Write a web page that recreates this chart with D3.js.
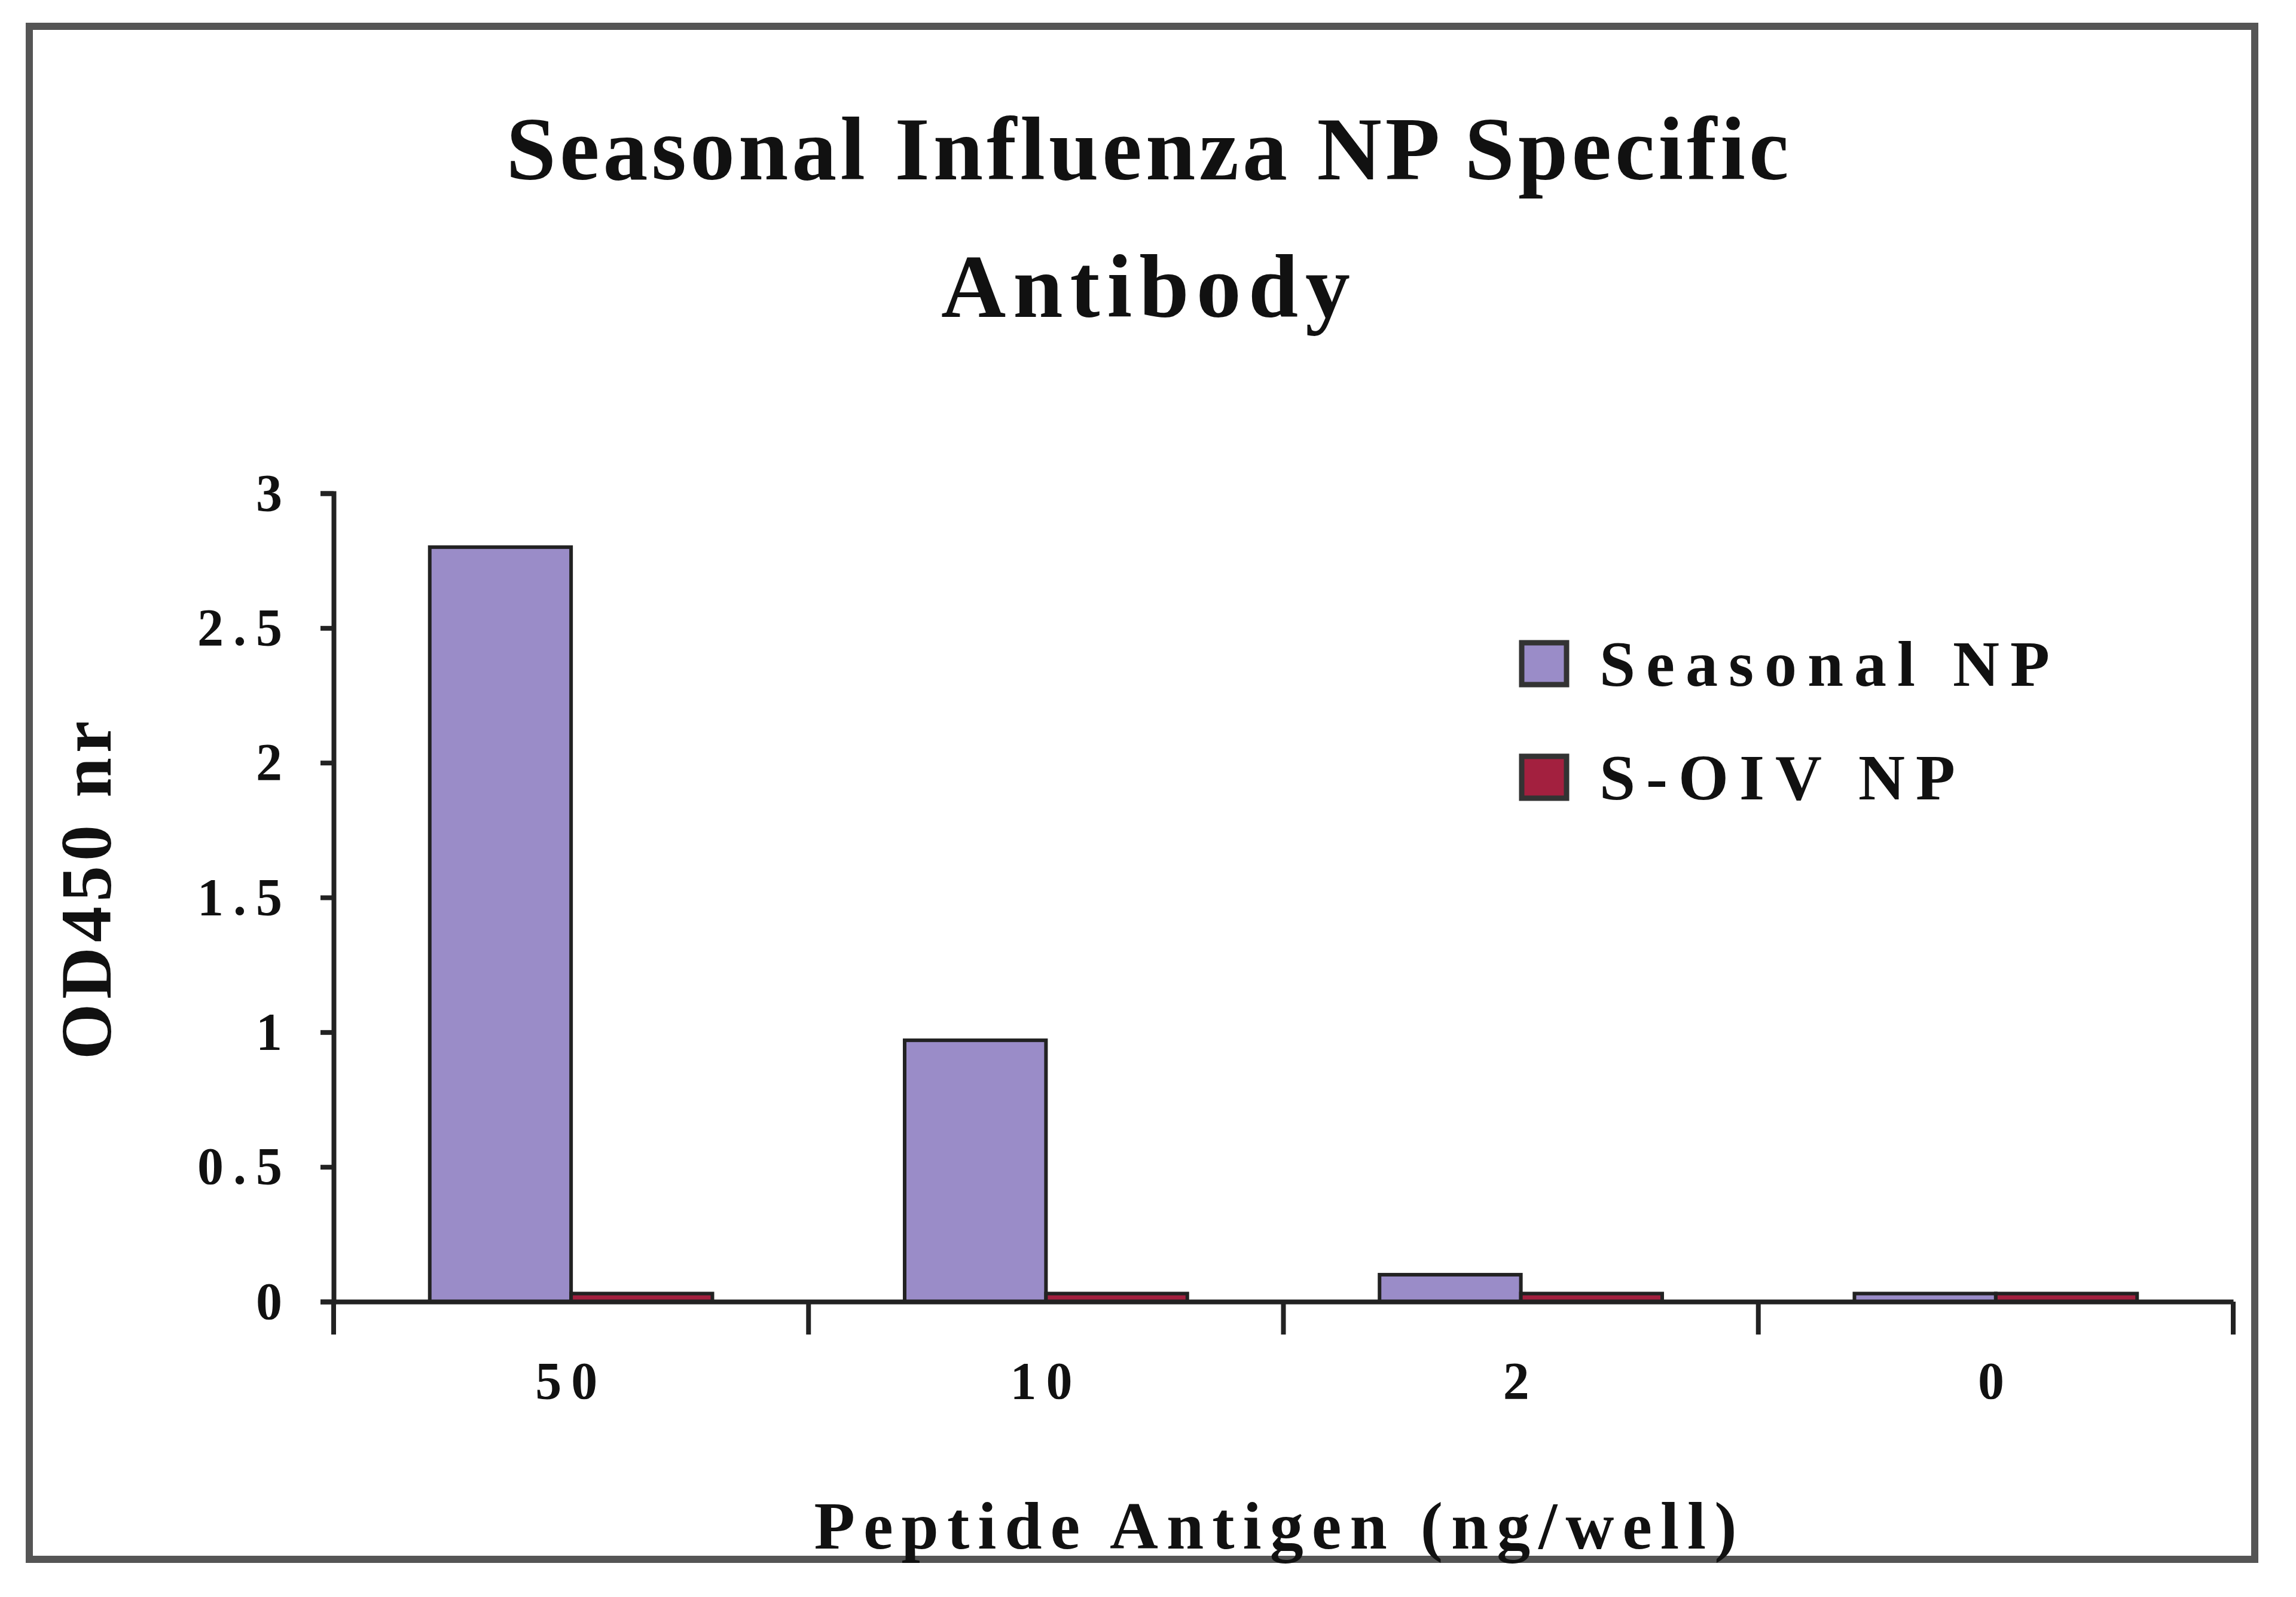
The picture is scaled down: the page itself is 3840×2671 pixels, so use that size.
<!DOCTYPE html>
<html><head><meta charset="utf-8">
<script src="https://cdn.jsdelivr.net/npm/d3@7"></script>
<style>
body{margin:0;background:#fff;}
text{font-family:"Liberation Serif","DejaVu Serif",serif;font-weight:bold;fill:#111;}
</style></head>
<body><svg id="c" width="3840" height="2671"></svg>
<script>
var categories = ["50", "10", "2", "0"];
var seriesNames = ["Seasonal NP", "S-OIV NP"];
var seasonal = [2.8, 0.97, 0.1, 0.03];
var soiv = [0.03, 0.03, 0.03, 0.03];
var yTicks = [0, 0.5, 1, 1.5, 2, 2.5, 3];
var colors = ["#9a8cc8", "#a3203f"];

var svg = d3.select("#c");
svg.append("rect").attr("x", 49).attr("y", 44).attr("width", 3722).attr("height", 2564)
  .attr("fill", "#fff").attr("stroke", "#555").attr("stroke-width", 12);

var x0 = d3.scaleBand().domain(categories).range([558, 3735]).paddingInner(0).paddingOuter(0);
var x1 = d3.scaleBand().domain(seriesNames).range([0, x0.bandwidth()]).paddingOuter(0.68).paddingInner(0);
var y = d3.scaleLinear().domain([0, 3]).range([2177, 825]);

svg.append("text").attr("x", 1922).attr("y", 300).attr("text-anchor", "middle")
  .attr("font-size", 150).attr("letter-spacing", 6).text("Seasonal Influenza NP Specific");
svg.append("text").attr("x", 1922).attr("y", 530).attr("text-anchor", "middle")
  .attr("font-size", 150).attr("letter-spacing", 12).text("Antibody");

var rows = categories.map(function (c, i) { return { c: c, v: [seasonal[i], soiv[i]] }; });
var g = svg.append("g");
rows.forEach(function (r) {
  r.v.forEach(function (v, j) {
    g.append("rect").attr("x", x0(r.c) + x1(seriesNames[j])).attr("y", y(v))
      .attr("width", x1.bandwidth()).attr("height", y(0) - y(v))
      .attr("fill", colors[j]).attr("stroke", "#222").attr("stroke-width", 6);
  });
});

var ya = svg.append("g").attr("transform", "translate(558,0)")
  .call(d3.axisLeft(y).tickValues(yTicks).tickSize(22).tickPadding(48).tickFormat(d3.format("")));
var xa = svg.append("g").attr("transform", "translate(0,2177)")
  .call(d3.axisBottom(x0).tickSize(0).tickPadding(100));
xa.selectAll(".tick line").remove();
xa.selectAll(".bt").data(d3.range(categories.length + 1)).enter().append("line")
  .attr("x1", function (i) { return 558 + i * x0.step(); })
  .attr("x2", function (i) { return 558 + i * x0.step(); })
  .attr("y1", 0).attr("y2", 55).attr("stroke", "#222").attr("stroke-width", 8);
[ya, xa].forEach(function (a) {
  a.selectAll(".domain").attr("stroke", "#222").attr("stroke-width", 8);
  a.selectAll(".tick line").attr("stroke", "#222").attr("stroke-width", 8);
  a.selectAll("text").attr("font-size", 88).attr("letter-spacing", 16).attr("font-family", "Liberation Serif").attr("font-weight", "bold").attr("fill", "#222");
});

svg.append("text").attr("transform", "translate(185,1485) rotate(-90)").attr("text-anchor", "middle")
  .attr("font-size", 120).attr("letter-spacing", 8).text("OD450 nr");
svg.append("text").attr("x", 2140).attr("y", 2590).attr("text-anchor", "middle")
  .attr("font-size", 112).attr("letter-spacing", 14).text("Peptide Antigen (ng/well)");

var lg = svg.append("g").attr("transform", "translate(2545,1075)");
seriesNames.forEach(function (n, i) {
  lg.append("rect").attr("x", 0).attr("y", i * 190).attr("width", 75).attr("height", 70)
    .attr("fill", colors[i]).attr("stroke", "#333").attr("stroke-width", 9);
  lg.append("text").attr("x", 130).attr("y", i * 190 + 72).attr("font-size", 108)
    .attr("letter-spacing", 18).text(n);
});
</script></body></html>
